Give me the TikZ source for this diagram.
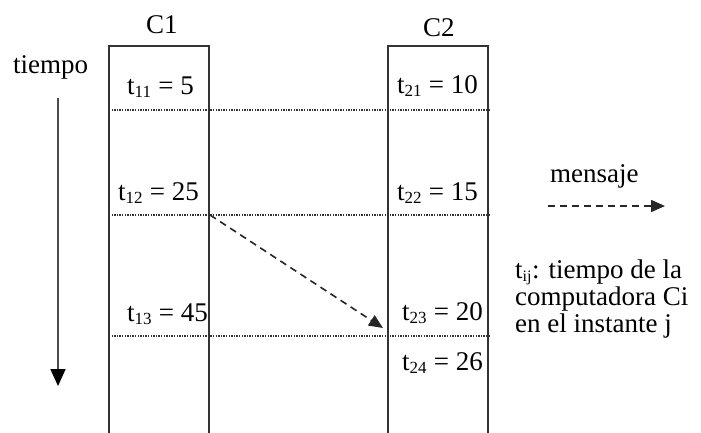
\documentclass[tikz,border=0pt]{standalone}
\usepackage{fontspec}
\setmainfont{Liberation Serif}
\usetikzlibrary{arrows.meta}
\begin{document}
\begin{tikzpicture}[x=1pt,y=-1pt,
  lbl/.style={inner sep=0pt,anchor=base west,font=\fontsize{27}{27}\selectfont},
  col/.style={draw=black!80,line width=1.8pt},
  sep/.style={draw=black!80,line width=1.1pt,dash pattern=on 1.3pt off 1.3pt},
  msg/.style={draw=black!85,line width=1.6pt,dash pattern=on 7pt off 5pt,-{Triangle[length=14pt,width=12pt]}},
  tarrow/.style={draw=black!70,line width=1.8pt,-{Triangle[length=17pt,width=15pt,color=black]}}]
\useasboundingbox (0,0) rectangle (701,432);
\newcommand{\ts}[1]{t\textsubscript{\fontsize{17}{17}\selectfont #1}}
% columns
\coordinate (c1bl) at (109,440);
\coordinate (c1tl) at (109,46);
\coordinate (c1tr) at (209,46);
\coordinate (c1br) at (209,440);
\coordinate (c2bl) at (388,440);
\coordinate (c2tl) at (388,46);
\coordinate (c2tr) at (488,46);
\coordinate (c2br) at (488,440);
\draw[col] (c1bl) -- (c1tl) -- (c1tr) -- (c1br);
\draw[col] (c2bl) -- (c2tl) -- (c2tr) -- (c2br);
% separators
\coordinate (s1a) at (109,110); \coordinate (s1b) at (490,110);
\coordinate (s2a) at (109,215); \coordinate (s2b) at (490,215);
\coordinate (s3a) at (109,336); \coordinate (s3b) at (490,336);
\draw[sep] (s1a) -- (s1b);
\draw[sep] (s2a) -- (s2b);
\draw[sep] (s3a) -- (s3b);
% headers
\node[lbl] (C1) at (146,33) {C1};
\node[lbl] (C2) at (423,36) {C2};
\node[lbl] (tiempo) at (13,73) {tiempo};
% time arrow
\coordinate (ta) at (58,98);
\coordinate (tb) at (58,386);
\draw[tarrow] (ta) -- (tb);
% values
\node[lbl] (t11) at (127,94) {\ts{11} = 5};
\node[lbl] (t21) at (397,93) {\ts{21} = 10};
\node[lbl] (t12) at (118,200) {\ts{12} = 25};
\node[lbl] (t22) at (397,200) {\ts{22} = 15};
\node[lbl] (t13) at (127,321) {\ts{13} = 45};
\node[lbl] (t23) at (402,320) {\ts{23} = 20};
\node[lbl] (t24) at (402,370) {\ts{24} = 26};
% message
\coordinate (m1) at (210,215);
\coordinate (m2) at (383,328);
\draw[msg] (m1) -- (m2);
% legend
\node[lbl] (mens) at (550,182) {mensaje};
\coordinate (l1) at (548,206);
\coordinate (l2) at (665,206);
\draw[msg] (l1) -- (l2);
\node[lbl] (leg1) at (515,278) {t\textsubscript{\fontsize{16}{16}\selectfont ij}: tiempo de la};
\node[lbl] (leg2) at (515,305) {computadora Ci};
\node[lbl] (leg3) at (515,332) {en el instante j};
\end{tikzpicture}
\end{document}
